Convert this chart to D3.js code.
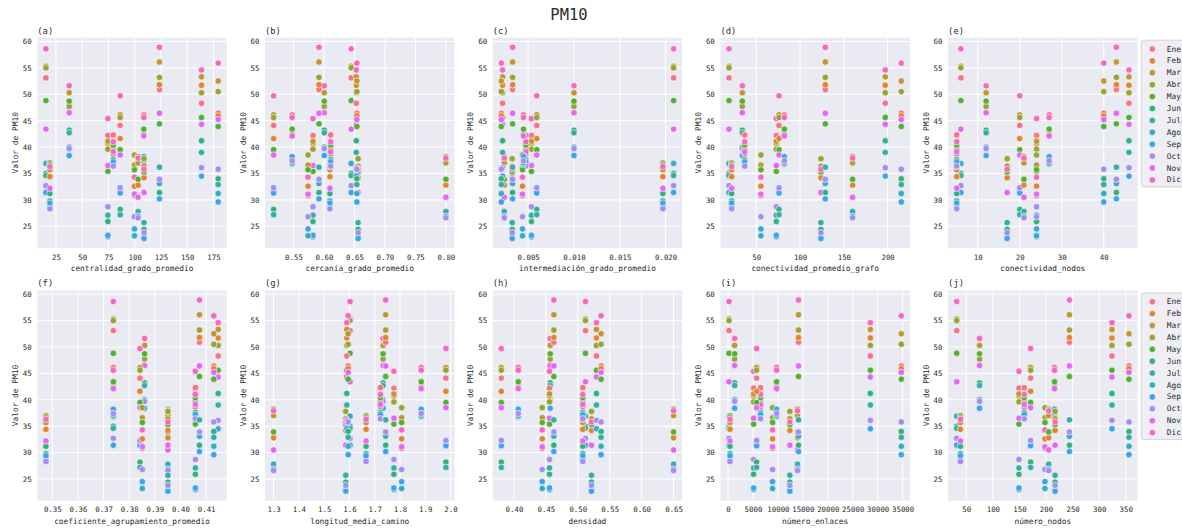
<!DOCTYPE html>
<html>
<head>
<meta charset="utf-8">
<script src="https://cdn.jsdelivr.net/npm/d3@7.9.0/dist/d3.min.js"></script>
<style>
body { margin: 0; background: #fff; }
svg text { font-family: "DejaVu Sans Mono", monospace; fill: #2b2b2b; }
</style>
</head>
<body>
<svg id="chart" width="1182" height="531"></svg>
<script>
// months (hue) and their colours
const months = ["Ene", "Feb", "Mar", "Abr", "May", "Jun", "Jul", "Ago", "Sep", "Oct", "Nov", "Dic"];
const monthColors = ["#f77189", "#e28331", "#bb9832", "#97a431", "#4fb032", "#33b07a",
                     "#36ada4", "#38aac0", "#3ba3ec", "#a48cf4", "#e466f4", "#f668c0"];

// PM10 per city (rows) and month Ene..Dic (null = no data)
const pm10ByCity = [
  [53.1, null, 55.3, 55.0, 48.8, 35.0, 34.6, 36.9, 31.4, 32.7, 43.4, 58.6],
  [36.0, 34.4, 35.7, 37.0, 36.6, 31.2, 29.8, 28.8, 29.4, 28.3, 32.2, 36.3],
  [null, null, 50.3, 47.7, 48.7, 43.2, 42.7, 40.0, 38.4, 39.7, 46.5, 51.6],
  [42.2, 40.7, 41.1, 39.6, 35.4, 25.9, 27.1, 23.0, 23.3, 28.7, 36.5, 45.4],
  [42.3, 38.7, 39.6, null, 40.4, null, 37.6, null, 37.2, 36.4, 39.1, 41.0],
  [44.1, 41.6, 46.1, 45.6, 39.5, 28.2, 27.2, 31.7, 31.3, 32.3, 38.5, 49.7],
  [30.8, 32.6, 36.6, 38.5, 35.7, null, null, 23.2, 24.5, 26.8, 31.1, 34.3],
  [null, 32.8, 37.0, 38.2, 33.9, null, 27.8, 26.9, null, 26.6, 30.5, 37.9],
  [46.1, null, 42.6, 42.4, 43.4, null, 36.8, 37.0, 38.2, 37.4, 42.1, 45.6],
  [35.6, 34.2, 36.4, 37.8, 35.3, 24.4, 25.7, 23.0, 22.7, 23.8, 31.4, 35.8],
  [50.9, 51.8, 56.1, 53.2, 44.4, 31.4, 36.2, 33.1, 30.2, 33.9, 46.4, 58.9],
  [48.3, 51.7, 53.3, 50.3, 45.6, 41.2, 39.0, null, 34.5, 36.1, 44.3, 54.6],
  [46.4, 45.9, 52.5, 50.5, 43.9, 34.0, 32.9, 31.2, 29.6, 35.8, 45.2, 55.9]
];

// graph metrics per city (same city order as above)
const centralidadGrado = [15.5, 19.3, 37.7, 74.5, 79.6, 86.2, 99.8, 103.3, 108.7, 108.9, 123.6, 163.6, 179.5];
const cercaniaGrado = [0.6446, 0.6098, 0.6005, 0.582, 0.611, 0.5174, 0.5739, 0.80, 0.5478, 0.656, 0.5918, 0.653, 0.654];
const intermediacionGrado = [0.02087, 0.0197, 0.0100, 0.00536, 0.00475, 0.00594, 0.00438, 0.00239, 0.00449, 0.00326, 0.00330, 0.00221, 0.00207];
const conectividadGrafo = [18.8, 21.8, 34.0, 72.8, 36.7, 75.9, 55.3, 160.0, 82.0, 123.8, 128.8, 197.3, 215.6];
const conectividadNodos = [6, 5, 12, 24, 5, 20, 24, 21, 27, 17, 43, 46, 40];
const coefAgrupamiento = [0.3738, 0.3475, 0.386, 0.4058, 0.4058, 0.3842, 0.3851, 0.3951, 0.3738, 0.3951, 0.4074, 0.4147, 0.413];
const longitudCamino = [1.6026, 1.6658, 1.733, 1.776, 1.7224, 1.9816, 1.8066, 1.30, 1.884, 1.5855, 1.7434, 1.5895, 1.595];
const densidad = [0.512, 0.5078, 0.4568, 0.4557, 0.5078, 0.3802, 0.4443, 0.65, 0.4068, 0.5214, 0.4625, 0.5292, 0.5365];
const numeroEnlaces = [200, 400, 1333, 5133, 6533, 5733, 8933, 13933, 9733, 12400, 14133, 28533, 34733];
const numeroNodos = [32, 39, 75, 149, 159, 171, 198, 205, 216, 217, 244, 324, 356];

// tick labels
const yTicks = [25, 30, 35, 40, 45, 50, 55, 60];
const ticksA = [25, 50, 75, 100, 125, 150, 175];
const ticksB = [0.55, 0.60, 0.65, 0.70, 0.75, 0.80];
const ticksC = [0.005, 0.010, 0.015, 0.020];
const ticksD = [50, 100, 150, 200];
const ticksE = [10, 20, 30, 40];
const ticksF = [0.35, 0.36, 0.37, 0.38, 0.39, 0.40, 0.41];
const ticksG = [1.3, 1.4, 1.5, 1.6, 1.7, 1.8, 1.9, 2.0];
const ticksH = [0.40, 0.45, 0.50, 0.55, 0.60, 0.65];
const ticksI = [0, 5000, 10000, 15000, 20000, 25000, 30000, 35000];
const ticksJ = [50, 100, 150, 200, 250, 300, 350];

const panels = [
  { tag: "(a)", label: "centralidad_grado_promedio", values: centralidadGrado, ticks: ticksA, fmt: d3.format("d") },
  { tag: "(b)", label: "cercanía_grado_promedio", values: cercaniaGrado, ticks: ticksB, fmt: d3.format(".2f") },
  { tag: "(c)", label: "intermediación_grado_promedio", values: intermediacionGrado, ticks: ticksC, fmt: d3.format(".3f") },
  { tag: "(d)", label: "conectividad_promedio_grafo", values: conectividadGrafo, ticks: ticksD, fmt: d3.format("d") },
  { tag: "(e)", label: "conectividad_nodos", values: conectividadNodos, ticks: ticksE, fmt: d3.format("d") },
  { tag: "(f)", label: "coeficiente_agrupamiento_promedio", values: coefAgrupamiento, ticks: ticksF, fmt: d3.format(".2f") },
  { tag: "(g)", label: "longitud_media_camino", values: longitudCamino, ticks: ticksG, fmt: d3.format(".1f") },
  { tag: "(h)", label: "densidad", values: densidad, ticks: ticksH, fmt: d3.format(".2f") },
  { tag: "(i)", label: "número_enlaces", values: numeroEnlaces, ticks: ticksI, fmt: d3.format("d") },
  { tag: "(j)", label: "número_nodos", values: numeroNodos, ticks: ticksJ, fmt: d3.format("d") }
];

const svg = d3.select("#chart");
const W = 189.5, H = 210.3;
const lefts = [37.3, 265, 492.7, 720.4, 948.1];
const tops = [37.7, 290.4];
const tickFont = 7.4, labelFont = 7.85;

// shared y domain, padded like matplotlib
const allY = pm10ByCity.flat().filter(v => v != null);
const yExt = d3.extent(allY);
const yPad = (yExt[1] - yExt[0]) * 0.05;
const y = d3.scaleLinear().domain([yExt[0] - yPad, yExt[1] + yPad]).range([H, 0]);

svg.append("text")
    .attr("x", 569).attr("y", 19.5)
    .attr("text-anchor", "middle")
    .attr("font-size", 15.5)
    .text("PM10");

panels.forEach((p, i) => {
    const col = i % 5, row = Math.floor(i / 5);
    const g = svg.append("g").attr("transform", `translate(${lefts[col]},${tops[row]})`);

    const xe = d3.extent(p.values);
    const xPad = (xe[1] - xe[0]) * 0.05;
    const x = d3.scaleLinear().domain([xe[0] - xPad, xe[1] + xPad]).range([0, W]);

    g.append("rect").attr("width", W).attr("height", H).attr("fill", "#eaeaf2");

    // white grid
    g.selectAll(".gx").data(p.ticks).enter().append("line")
        .attr("x1", d => x(d)).attr("x2", d => x(d))
        .attr("y1", 0).attr("y2", H)
        .attr("stroke", "#fff").attr("stroke-width", 1);
    g.selectAll(".gy").data(yTicks).enter().append("line")
        .attr("x1", 0).attr("x2", W)
        .attr("y1", d => y(d)).attr("y2", d => y(d))
        .attr("stroke", "#fff").attr("stroke-width", 1);

    // axes
    g.append("g")
        .attr("transform", `translate(0,${H})`)
        .call(d3.axisBottom(x).tickValues(p.ticks).tickFormat(p.fmt).tickSize(0).tickPadding(6.3))
        .attr("font-size", tickFont)
        .call(a => a.select(".domain").remove());
    g.append("g")
        .call(d3.axisLeft(y).tickValues(yTicks).tickFormat(d3.format("d")).tickSize(0).tickPadding(5.6))
        .attr("font-size", tickFont)
        .call(a => a.select(".domain").remove());

    // labels
    g.append("text")
        .attr("x", W / 2).attr("y", H + 23)
        .attr("text-anchor", "middle")
        .attr("font-size", labelFont)
        .text(p.label);
    g.append("text")
        .attr("transform", `translate(-19.5,${H / 2}) rotate(-90)`)
        .attr("text-anchor", "middle")
        .attr("font-size", labelFont)
        .text("Valor de PM10");
    g.append("text")
        .attr("x", 0).attr("y", -4)
        .attr("font-size", 8.8)
        .text(p.tag);

    // points
    const pts = [];
    pm10ByCity.forEach((vals, c) => {
        vals.forEach((v, m) => {
            if (v != null) pts.push({ x: p.values[c], y: v, m: m });
        });
    });
    g.selectAll("circle").data(pts).enter().append("circle")
        .attr("cx", d => x(d.x))
        .attr("cy", d => y(d.y))
        .attr("r", 3.2)
        .attr("fill", d => monthColors[d.m])
        .attr("stroke", "#fff")
        .attr("stroke-width", 0.6);

    // legend next to the last panel of each row
    if (col === 4) {
        const lg = svg.append("g").attr("transform", `translate(1141.3,${tops[row] + 2.5})`);
        lg.append("rect")
            .attr("width", 60).attr("height", 146.7).attr("rx", 2.5)
            .attr("fill", "#eeeef4").attr("stroke", "#cccccc").attr("stroke-width", 0.8);
        const items = lg.selectAll(".item").data(months).enter().append("g")
            .attr("transform", (d, k) => `translate(0,${8.8 + k * 11.9})`);
        items.append("circle")
            .attr("cx", 11).attr("r", 3.2)
            .attr("fill", (d, k) => monthColors[k])
            .attr("stroke", "#fff").attr("stroke-width", 0.6);
        items.append("text")
            .attr("x", 25.4).attr("dy", "0.32em")
            .attr("font-size", labelFont)
            .text(d => d);
    }
});
</script>
</body>
</html>
